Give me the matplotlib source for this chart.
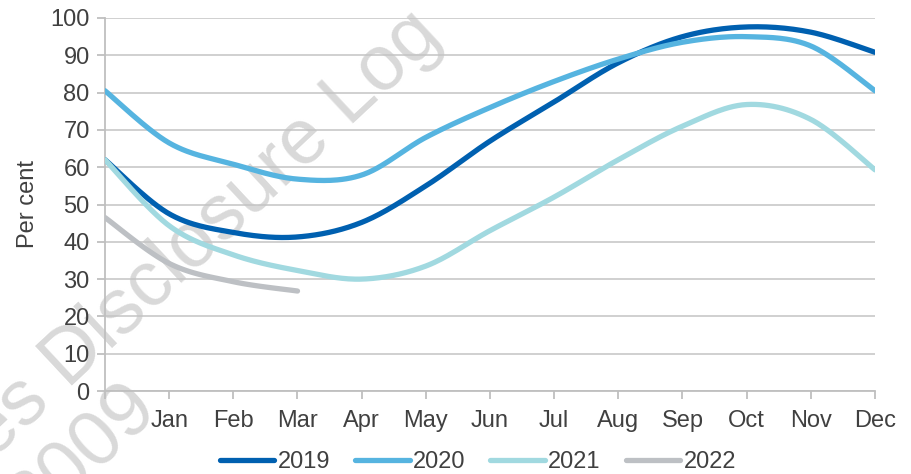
import numpy as np
import matplotlib
matplotlib.use("Agg")
import matplotlib.pyplot as plt

plt.rcParams['font.family'] = ['Liberation Sans', 'DejaVu Sans']

months = ["Jan", "Feb", "Mar", "Apr", "May", "Jun", "Jul", "Aug", "Sep", "Oct", "Nov", "Dec"]
x_pos = list(range(0, 13))

s2019 = [62, 47.5, 42.5, 41.3, 45.2, 55, 67, 77.5, 88, 95, 97.6, 96.2, 90.8]
s2020 = [80.5, 66.5, 60.8, 56.8, 57.9, 68, 76, 83, 89, 93.5, 95, 92.5, 80.5]
s2021 = [62, 44.3, 36.5, 32.3, 30, 33.5, 43, 52, 62, 71, 76.8, 72.8, 59.3]
s2022 = [46.5, 34.2, 29.3, 26.8]

series = [("2019", s2019, "#0060B0"), ("2020", s2020, "#56B4E0"),
          ("2021", s2021, "#A1D9E0"), ("2022", s2022, "#BDC0C4")]


def smooth(xs, ys, n=30):
    xs = np.asarray(xs, float); ys = np.asarray(ys, float)
    px = np.concatenate([[xs[0]], xs, [xs[-1]]])
    py = np.concatenate([[ys[0]], ys, [ys[-1]]])
    ox, oy = [], []
    t = np.linspace(0, 1, n)
    for i in range(1, len(px) - 2):
        p0 = np.array([px[i], py[i]]); p3 = np.array([px[i + 1], py[i + 1]])
        p1 = p0 + (np.array([px[i + 1], py[i + 1]]) - np.array([px[i - 1], py[i - 1]])) / 6
        p2 = p3 - (np.array([px[i + 2], py[i + 2]]) - np.array([px[i], py[i]])) / 6
        b = ((1 - t) ** 3)[:, None] * p0 + (3 * (1 - t) ** 2 * t)[:, None] * p1 + \
            (3 * (1 - t) * t ** 2)[:, None] * p2 + (t ** 3)[:, None] * p3
        ox.extend(b[:, 0]); oy.extend(b[:, 1])
    return ox, oy


fig = plt.figure(figsize=(9.12, 4.74), dpi=100)
ax = fig.add_axes([105 / 912, 1 - 391 / 474, (875 - 105) / 912, (391 - 18) / 474])

# watermark (behind the axes)
wm_color = "#D9D9D9"
fig.text(-8 / 912, 1 - 460 / 474, "es Disclosure Log", fontsize=56, color=wm_color,
         rotation=43, rotation_mode='anchor', ha='left', va='baseline', zorder=-1)
fig.text(32 / 912, 1 - 528 / 474, "2009", fontsize=56, color=wm_color,
         rotation=43, rotation_mode='anchor', ha='left', va='baseline', zorder=-1)
ax.set_facecolor('none')

for name, vals, col in series:
    sx, sy = smooth(x_pos[:len(vals)], vals)
    ax.plot(sx, sy, color=col, lw=3.8, solid_capstyle='round', label=name, zorder=3)

txt = '#404040'
fs = 17
ax.set_xlim(0, 12)
ax.set_ylim(0, 100)
ax.set_yticks(range(0, 101, 10))
ax.set_xticks(range(0, 13))
ax.set_xticklabels([""] + months)
ax.grid(axis='y', color='#C4C4C4', lw=1.1)
ax.set_axisbelow(True)
for s in ['top', 'right']:
    ax.spines[s].set_visible(False)
for s in ['left', 'bottom']:
    ax.spines[s].set_color('#BFBFBF')
    ax.spines[s].set_linewidth(1.3)
ax.tick_params(axis='both', colors='#BFBFBF', labelcolor=txt, labelsize=fs, length=6, width=1.3)
ax.tick_params(axis='x', pad=8)
ax.tick_params(axis='y', pad=5)
ax.set_ylabel("Per cent", fontsize=fs, color=txt, labelpad=8)

leg = fig.legend(loc='center', bbox_to_anchor=(478 / 912, 1 - 462 / 474), ncol=4, frameon=False,
                 fontsize=fs, handlelength=2.3, handletextpad=0.15, columnspacing=1.05)
for t in leg.get_texts():
    t.set_color(txt)

fig.savefig("out.png", dpi=100)
